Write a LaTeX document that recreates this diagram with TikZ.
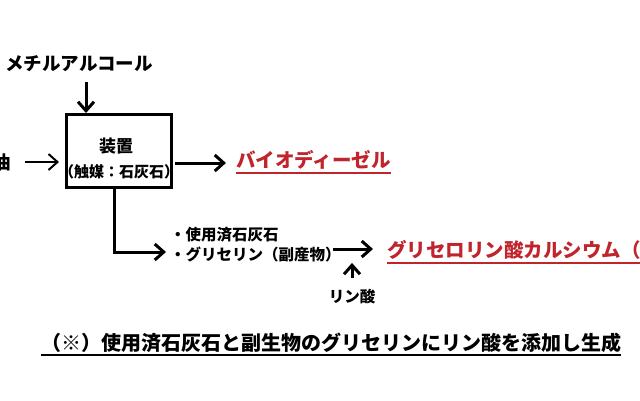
\documentclass[tikz,border=0pt]{standalone}
\usepackage{fontspec}
\setmainfont{Noto Sans CJK JP}
\usetikzlibrary{arrows.meta}
\definecolor{bdfred}{RGB}{192,36,44}

\begin{document}
\begin{tikzpicture}[x=1pt,y=-1pt,
        arr/.style = {-{Straight Barb[length=9pt,width=16pt]}, line width=3pt},
        jp/.style = {inner sep=0pt, text height=0.88*#1pt, text depth=0.12*#1pt,
                     font=\bfseries\fontsize{#1pt}{#1pt}\selectfont}]
    \useasboundingbox (0,0) rectangle (640,400);
    \clip (0,0) rectangle (640,400);

    % process
    \node[draw, line width=3pt, minimum width=105pt, minimum height=73pt] (device) at (119,151) {};
    \node[jp=17](devname) at (116,146) {装置};
    \node[jp=15](catalyst) at (119,172) {（触媒：石灰石）};

    \begin{scope}[every node/.style = {jp=18.5}]
        \node(methanol) at (79,63) {メチルアルコール};
        \node(oil) at (2,162) {油};
    \end{scope}

    \begin{scope}[every node/.style = {jp=15.5, anchor=west}]
        \node(lime) at (170,235) {・使用済石灰石};
        \node(glycerin) at (170,255) {・グリセリン（副産物）};
    \end{scope}
    \node[jp=15.5](acid) at (352,297) {リン酸};

    \begin{scope}[every node/.style = {jp=19.5, text=bdfred}]
        \node(bdf) at (313.5,160) {バイオディーゼル};
        \node[anchor=west](calcium) at (387,250) {グリセロリン酸カルシウム（};
    \end{scope}
    \node[jp=20, anchor=west](note) at (41,343) {（※）使用済石灰石と副生物のグリセリンにリン酸を添加し生成};

    % underlines
    \draw[bdfred, line width=2pt] ([yshift=-3pt]bdf.south west) -- ([yshift=-3pt]bdf.south east);
    \draw[bdfred, line width=2pt] ([yshift=-3pt]calcium.south west) -- ([yshift=-3pt]calcium.south east);
    \draw[line width=2pt] ([yshift=-2pt]note.south west) -- ([yshift=-2pt]note.south east);

    % flows
    \coordinate(feed) at (86,82);
    \coordinate(bdfout) at (175,163);
    \coordinate(bend) at (114,252);
    \coordinate(mix) at (333,249);
    \coordinate(acidin) at (352,278);
    \draw[arr] (feed) -- (feed |- device.north);
    \draw[arr, line width=2pt, shorten <=14pt, shorten >=6pt] (oil.east) -- (oil.east -| device.west);
    \draw[arr] (bdfout) -- ([xshift=-10pt]bdf.west |- bdfout);
    \draw[arr] (bend |- device.south) -- (bend) -- ([xshift=-4pt]lime.west |- bend);
    \draw[arr] (mix) -- ([xshift=-14pt]calcium.west |- mix);
    \draw[arr] (acidin) -- (acidin |- glycerin.south);
\end{tikzpicture}
\end{document}
